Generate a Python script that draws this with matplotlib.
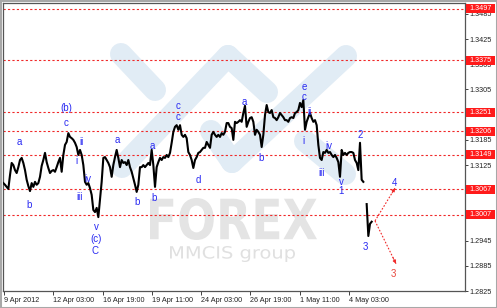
import numpy as np
import matplotlib
matplotlib.use("Agg")
import matplotlib.pyplot as plt
from matplotlib.textpath import TextPath
from matplotlib.patches import PathPatch, Rectangle
from matplotlib.font_manager import FontProperties
from matplotlib.transforms import Affine2D, blended_transform_factory

plt.rcParams['font.family'] = ['Liberation Sans', 'DejaVu Sans']

# ---------------- data ----------------
prices = [
    1.3082, 1.3078, 1.3073, 1.3068, 1.3101, 1.3130, 1.3125, 1.3113, 1.3106, 1.3120,
    1.3137, 1.3142, 1.3130, 1.3113, 1.3090, 1.3075, 1.3063, 1.3082, 1.3073, 1.3085,
    1.3078, 1.3082, 1.3097, 1.3123, 1.3137, 1.3154, 1.3132, 1.3118, 1.3106, 1.3111,
    1.3113, 1.3109, 1.3120, 1.3132, 1.3142, 1.3109, 1.3149, 1.3173, 1.3180, 1.3201,
    1.3192, 1.3189, 1.3185, 1.3178, 1.3168, 1.3149, 1.3161, 1.3149, 1.3125, 1.3085,
    1.3078, 1.3082, 1.3070, 1.3054, 1.3018, 1.3013, 1.3023, 1.3001, 1.3042, 1.3085,
    1.3142, 1.3144, 1.3137, 1.3130, 1.3120, 1.3097, 1.3125, 1.3144, 1.3161, 1.3142,
    1.3120, 1.3137, 1.3130, 1.3132, 1.3125, 1.3137, 1.3120, 1.3109, 1.3094, 1.3078,
    1.3061, 1.3078, 1.3120, 1.3120, 1.3125, 1.3120, 1.3125, 1.3130, 1.3125, 1.3161,
    1.3125, 1.3073, 1.3120, 1.3132, 1.3142, 1.3137, 1.3144, 1.3142, 1.3149, 1.3144,
    1.3154, 1.3178, 1.3204, 1.3216, 1.3220, 1.3209, 1.3220, 1.3197, 1.3192, 1.3197,
    1.3189, 1.3156, 1.3149, 1.3137, 1.3118, 1.3137, 1.3144, 1.3154, 1.3156, 1.3161,
    1.3166, 1.3166, 1.3180, 1.3173, 1.3166, 1.3197, 1.3204, 1.3197, 1.3192, 1.3197,
    1.3192, 1.3201, 1.3197, 1.3204, 1.3225, 1.3225, 1.3216, 1.3213, 1.3185, 1.3228,
    1.3225, 1.3228, 1.3232, 1.3228, 1.3249, 1.3266, 1.3216, 1.3228, 1.3237, 1.3239,
    1.3228, 1.3197, 1.3209, 1.3204, 1.3197, 1.3168, 1.3197, 1.3244, 1.3268, 1.3251,
    1.3249, 1.3256, 1.3239, 1.3237, 1.3232, 1.3239, 1.3249, 1.3244, 1.3239, 1.3232,
    1.3232, 1.3228, 1.3237, 1.3239, 1.3237, 1.3249, 1.3251, 1.3256, 1.3273, 1.3263,
    1.3280, 1.3209, 1.3228, 1.3239, 1.3249, 1.3237, 1.3228, 1.3232, 1.3220, 1.3173,
    1.3142, 1.3137, 1.3156, 1.3154, 1.3161, 1.3154, 1.3156, 1.3149, 1.3144, 1.3149,
    1.3142, 1.3132, 1.3097, 1.3161, 1.3149, 1.3154, 1.3149, 1.3154, 1.3156, 1.3156,
    1.3154, 1.3137, 1.3130, 1.3113, 1.3178, 1.3090, 1.3085,
    np.nan,
    1.3032, 1.2956, 1.2985, 1.2990,
]

x_tick_labels = ["9 Apr 2012", "12 Apr 03:00", "16 Apr 19:00", "19 Apr 11:00",
                 "24 Apr 03:00", "26 Apr 19:00", "1 May 11:00", "4 May 03:00"]
x_tick_first = 0.4
x_tick_step = 29.57

y_ticks = [1.2825, 1.2885, 1.2945, 1.3005, 1.3065, 1.3125,
           1.3185, 1.3245, 1.3305, 1.3365, 1.3425, 1.3485]
# scale labels that sit fully behind a red level box
y_hidden = [1.3005, 1.3065, 1.3245]

levels = [1.3497, 1.3375, 1.3251, 1.3206, 1.3149, 1.3067, 1.3007]

wave_labels = [
    ("a", 9.4, 1.3180), ("b", 15.4, 1.3030), ("(b)", 37.6, 1.3261), ("c", 37.6, 1.3225),
    ("ii", 46.6, 1.3180), ("i", 43.6, 1.3135), ("iv", 50.8, 1.3092), ("iii", 46.0, 1.3049),
    ("v", 55.6, 1.2978), ("(c)", 55.6, 1.2949), ("C", 55.0, 1.2921),
    ("a", 68.2, 1.3185), ("b", 80.2, 1.3037), ("a", 89.2, 1.3170), ("b", 90.4, 1.3047),
    ("c", 104.8, 1.3266), ("c", 104.8, 1.3239), ("d", 116.8, 1.3090),
    ("a", 144.4, 1.3275), ("b", 154.6, 1.3142),
    ("e", 180.4, 1.3310), ("c", 180.4, 1.3286), ("ii", 184.0, 1.3251), ("i", 179.8, 1.3182),
    ("iv", 195.4, 1.3170), ("iii", 191.2, 1.3106), ("v", 202.6, 1.3085), ("1", 202.6, 1.3063),
    ("2", 214.0, 1.3197), ("3", 217.0, 1.2930), ("4", 235.0, 1.3082),
]
forecast_label = ("3", 233.8, 1.2866)
forecast_start = (223.0, 1.2992)
forecast_targets = [(235.0, 1.3070), (235.6, 1.2890)]

# ---------------- figure ----------------
W, H = 497, 308
fig = plt.figure(figsize=(W / 100, H / 100), dpi=100)
fig.patch.set_facecolor("white")
rect = [3 / W, 17 / H, 462 / W, 288 / H]

# watermark layer (decoration, pixel space)
wm = fig.add_axes(rect, zorder=0)
wm.set_xlim(3, 465)
wm.set_ylim(291, 3)
wm.axis("off")
wm_col = "#e1ecf5"
cap_lw = 22 * 0.72
for (x1, y1), (x2, y2) in [((121, 54), (155, 90)), ((122, 167), (228, 56)),
                           ((228, 56), (267, 92)), ((211, 131), (232, 162)),
                           ((232, 162), (346, 56)), ((305, 141), (345, 174))]:
    wm.plot([x1, x2], [y1, y2], color=wm_col, lw=cap_lw, solid_capstyle="round", zorder=1)


def fit_text(axw, s, box, color, weight="normal"):
    tp = TextPath((0, 0), s, size=10, prop=FontProperties(family="DejaVu Sans", weight=weight))
    ext = tp.get_extents()
    x0, y0, x1, y1 = box
    sx = (x1 - x0) / ext.width
    sy = (y1 - y0) / ext.height
    tr = Affine2D().translate(-ext.x0, -ext.y0).scale(sx, -sy).translate(x0, y1)
    axw.add_patch(PathPatch(tr.transform_path(tp), fc=color, ec="none", zorder=2))


fit_text(wm, "FOREX", (150, 198, 317, 240), "#e4e4e4", weight="bold")
fit_text(wm, "MMCIS group", (170, 246, 295, 262), "#e0e0e0")

# main chart
ax = fig.add_axes(rect, zorder=1)
ax.patch.set_alpha(0)
x = np.arange(len(prices))
ax.set_xlim(-0.2, 277.0)
ax.set_ylim(1.2825, 1.3511)

red = "#f02828"
for v in levels:
    ax.axhline(v, color=red, lw=0.8, ls=(0, (2, 2)), zorder=2)

ax.plot(x, prices, color="black", lw=1.5, zorder=3)

blue = "#2a2af2"
for s, lx, ly in wave_labels:
    ax.text(lx, ly, s, color=blue, fontsize=7, ha="center", va="center", zorder=4)
ax.text(forecast_label[1], forecast_label[2], forecast_label[0], color="#e8463c",
        fontsize=7, ha="center", va="center", zorder=4)

sx0, sy0 = forecast_start
for tx, ty in forecast_targets:
    ax.plot([sx0, tx], [sy0, ty], color=red, lw=0.8, ls=(0, (1.5, 1.5)), zorder=4)
    ax.annotate("", xy=(tx, ty), xytext=(sx0 + 0.85 * (tx - sx0), sy0 + 0.85 * (ty - sy0)),
                arrowprops=dict(arrowstyle="-|>", color=red, lw=0.6, mutation_scale=5,
                                shrinkA=0, shrinkB=0), zorder=4)

# axes styling
for side in ["left", "top", "right", "bottom"]:
    ax.spines[side].set_color("#555555")
    ax.spines[side].set_linewidth(0.9)
ax.yaxis.tick_right()
ax.set_yticks(y_ticks)
ax.set_yticklabels(["" if t in y_hidden else f"{t:.4f}" for t in y_ticks])
ax.tick_params(axis="y", direction="out", length=2, width=0.6, pad=1.5, labelsize=5.2,
               colors="#222222")
ax.set_xticks([x_tick_first + i * x_tick_step for i in range(len(x_tick_labels))])
ax.set_xticklabels(x_tick_labels, ha="left")
ax.tick_params(axis="x", direction="out", length=3, width=0.6, pad=1.5, labelsize=5.2,
               colors="#222222")

# red price-level boxes on the right scale
bt = blended_transform_factory(fig.transFigure, ax.transData)
hbox = 9 * (1.3511 - 1.2825) / 288
for v in levels:
    ax.add_patch(Rectangle((466 / W, v - hbox / 2), 29 / W, hbox, transform=bt,
                           fc="#ff1a1a", ec="none", clip_on=False, zorder=6))
    ax.text(480.5 / W, v, f"{v:.4f}", transform=bt, color="white", fontsize=5.2,
            ha="center", va="center", clip_on=False, zorder=7)

fig.patches.append(Rectangle((0, 0), 1, 1, transform=fig.transFigure, fill=False,
                             ec="#a8a8a8", lw=2.2))

fig.savefig("out.png", dpi=100)
